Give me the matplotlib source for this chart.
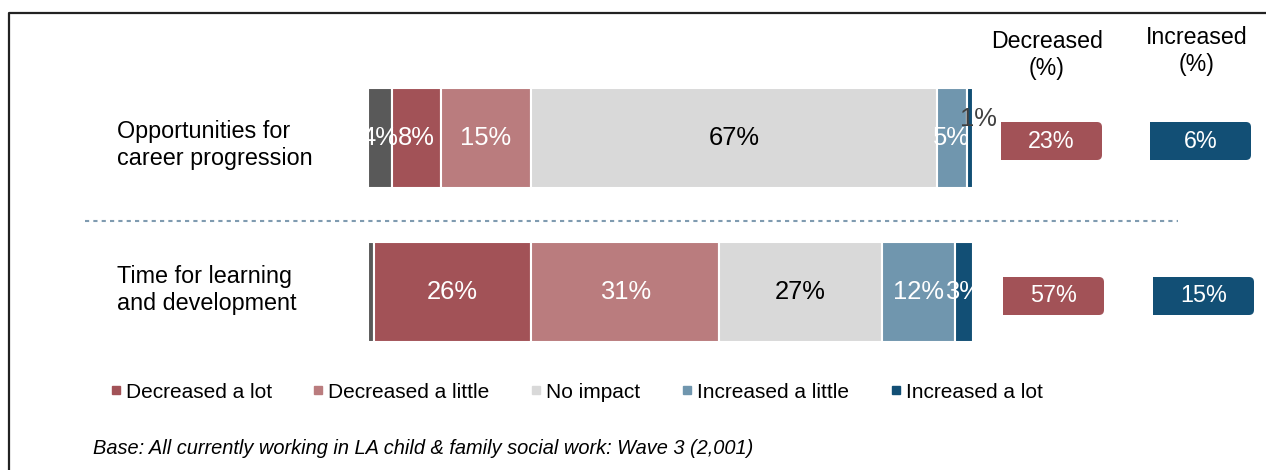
import matplotlib.pyplot as plt
import numpy as np
from matplotlib.lines import Line2D
from matplotlib.patches import FancyBboxPatch, Rectangle

plt.rcParams['font.family'] = ['Liberation Sans', 'DejaVu Sans']

# Data
categories = ['Opportunities for\ncareer progression', 'Time for learning\nand development']
dont_know = [4, 1]
decreased_lot = [8, 26]
decreased_little = [15, 31]
no_impact = [67, 27]
increased_little = [5, 12]
increased_lot = [1, 3]

series_names = ['Decreased a lot', 'Decreased a little', 'No impact',
                'Increased a little', 'Increased a lot']
colors = ['#A25257', '#BA7C7E', '#D9D9D9', '#7096AE', '#124F75']
grey = '#595959'

decreased_total = [a + b for a, b in zip(decreased_lot, decreased_little)]
increased_total = [a + b for a, b in zip(increased_little, increased_lot)]

W, H = 1266, 470
fig = plt.figure(figsize=(W / 100, H / 100), dpi=100)

# overlay axes in pixel units for frame, headers, legend, boxes
ax2 = fig.add_axes([0, 0, 1, 1])
ax2.set_xlim(0, W)
ax2.set_ylim(H, 0)
ax2.axis('off')

# frame (top and left edges only visible)
ax2.plot([9, 9, W + 5], [H + 5, 13, 13], color='#222222', lw=1.6, clip_on=False)

# dotted separator
ax2.plot([85, 1178], [221, 221], color='#7F9BB0', lw=1.5, linestyle=(0, (2, 2)))

# main bar axes
ax = fig.add_axes([368 / W, 1 - 370 / H, 605 / W, 310 / H])
ax.patch.set_alpha(0)
y = np.arange(len(categories))
bh = 0.647

all_series = [dont_know, decreased_lot, decreased_little, no_impact,
              increased_little, increased_lot]
all_colors = [grey] + colors
left = np.zeros(len(categories))
for i, (vals, col) in enumerate(zip(all_series, all_colors)):
    vals = np.array(vals, dtype=float)
    ax.barh(y, vals, left=left, height=bh, color=col, edgecolor='white', linewidth=1.5)
    for j, v in enumerate(vals):
        cx = left[j] + v / 2
        if i == 0 and v < 2:
            pass
        elif v < 2:
            ax.text(cx + 1.4, y[j] - 0.12, f'{v:.0f}%', ha='center', va='center',
                    fontsize=18.4, color='#404040')
        else:
            tc = 'black' if i == 3 else 'white'
            ax.text(cx, y[j], f'{v:.0f}%', ha='center', va='center',
                    fontsize=18.4, color=tc)
    left += vals

ax.set_xlim(0, 100)
ax.set_ylim(1.502, -0.505)
ax.axis('off')

# category labels
row_px = [145, 290]
for cat, yp in zip(categories, row_px):
    ax2.text(117, yp, cat, ha='left', va='center', fontsize=16.8, linespacing=1.2)

# summary column headers
ax2.text(1047, 55, 'Decreased\n(%)', ha='center', va='center', fontsize=16.7, linespacing=1.25)
ax2.text(1197, 51, 'Increased\n(%)', ha='center', va='center', fontsize=16.7, linespacing=1.25)


def summary_box(x0, yc, text, col):
    w, h = 101, 38
    box = FancyBboxPatch((x0, yc - h / 2), w, h, boxstyle='round,pad=0,rounding_size=5',
                         facecolor=col, edgecolor='none')
    ax2.add_patch(box)
    ax2.add_patch(Rectangle((x0, yc - h / 2), w / 2, h, facecolor=col, edgecolor='none'))
    ax2.text(x0 + w / 2, yc, text, ha='center', va='center', fontsize=16.8, color='white')


box_y = [141, 296]
dec_x = [1001, 1003]
inc_x = [1150, 1153]
for j in range(len(categories)):
    summary_box(dec_x[j], box_y[j], f'{decreased_total[j]}%', colors[0])
    summary_box(inc_x[j], box_y[j], f'{increased_total[j]}%', colors[4])

# legend
handles = [Line2D([], [], marker='s', linestyle='none', markersize=6,
                  markerfacecolor=c, markeredgecolor=c) for c in colors]
fig.legend(handles, series_names, loc='center left', bbox_to_anchor=(110.5 / W, 1 - 392 / H),
           ncol=5, frameon=False, fontsize=15, handlelength=0.5, handletextpad=0.22,
           columnspacing=2.0, borderpad=0, borderaxespad=0)

# footnote
ax2.text(93, 449, 'Base: All currently working in LA child & family social work: Wave 3 (2,001)',
         ha='left', va='center', fontsize=14.4, style='italic')

fig.savefig('out.png', dpi=100)
